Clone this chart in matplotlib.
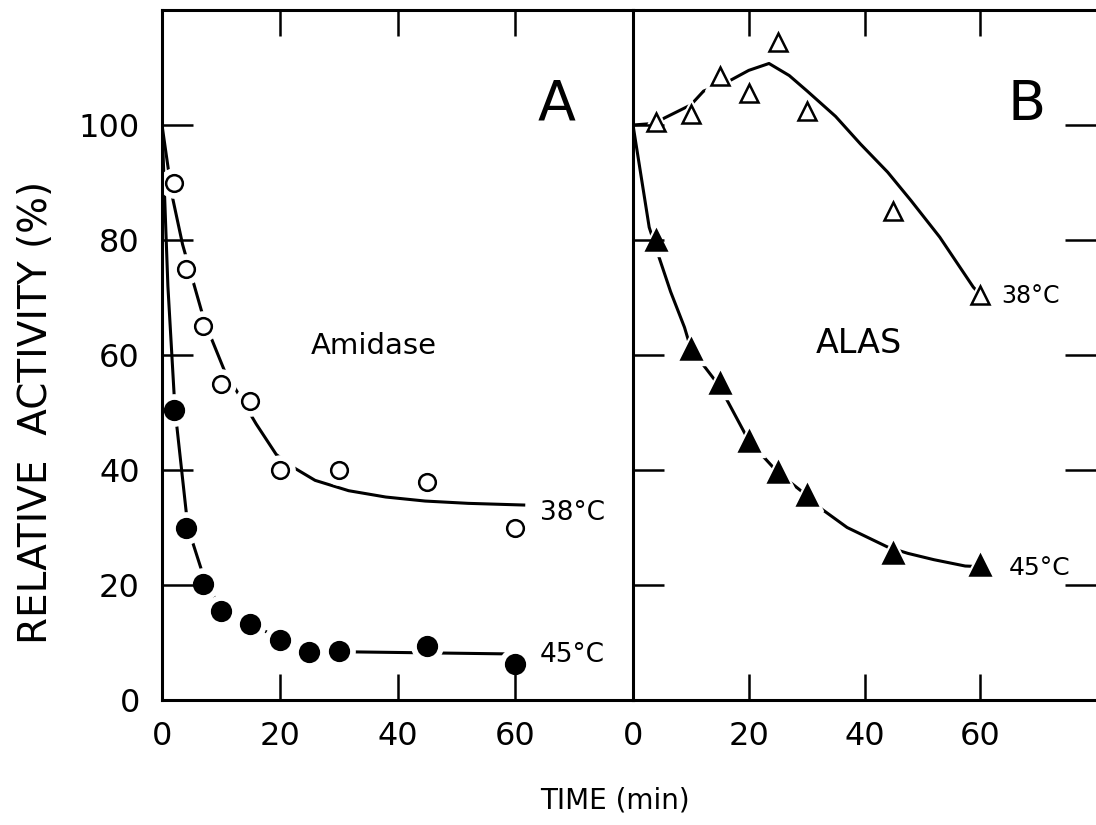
import matplotlib
matplotlib.use("Agg")
import matplotlib.pyplot as plt

# ---- data ----
# Panel A: amidase
a38_t = [2, 4, 7, 10, 15, 20, 30, 45, 60]
a38_y = [90, 75, 65, 55, 52, 40, 40, 38, 30]
a45_t = [2, 4, 7, 10, 15, 20, 25, 30, 45, 60]
a45_y = [50.5, 30, 20.2, 15.5, 13.2, 10.5, 8.3, 8.6, 9.4, 6.3]

# hand-drawn fitted curves (panel A)
a38_curve_t = [0, 1.7, 3.5, 6.7, 8.1, 10.6, 12.3, 16, 19.4, 22.4, 26, 31.7, 38, 44.7, 52, 61.7]
a38_curve_y = [100, 87.8, 79.2, 67.7, 63.6, 57.3, 54.4, 48, 42.7, 40.4, 38.2, 36.4, 35.3, 34.6, 34.2, 33.9]
a45_curve_t = [0, 1, 2.2, 4.4, 7.4, 10.3, 15.4, 20.5, 25.3, 30, 45, 60]
a45_curve_y = [100, 72, 50.6, 30, 20.4, 15.5, 13, 10.5, 8.6, 8.4, 8.2, 8.0]

# Panel B: ALAS
b38_t = [4, 10, 15, 20, 25, 30, 45, 60]
b38_y = [100.5, 102, 108.5, 105.5, 114.5, 102.5, 85, 70.5]
b45_t = [4, 10, 15, 20, 25, 30, 45, 60]
b45_y = [80, 61.1, 55.2, 45.1, 39.6, 35.6, 25.5, 23.4]

b38_curve_t = [0, 4, 5.4, 10, 12.2, 16.7, 20, 23.5, 27, 30.1, 35, 39.3, 44, 48, 53, 58.8, 60]
b38_curve_y = [100, 100.3, 101.2, 103.5, 105.9, 107.7, 109.5, 110.7, 108.6, 105.9, 101.5, 96.7, 91.8, 86.9, 80.5, 71.8, 70.5]
b45_curve_t = [0, 2.8, 4, 6.5, 8.9, 10, 15, 20, 25, 30, 32.2, 37, 44, 47.5, 52, 57.4, 60]
b45_curve_y = [100, 82.2, 78.5, 71, 64.8, 61.1, 54.5, 45.1, 39.6, 35.6, 33.5, 30, 26.6, 25.5, 24.4, 23.3, 23.2]

xticks = [0, 20, 40, 60]
yticks = [0, 20, 40, 60, 80, 100]

plt.rcParams['font.family'] = ['DejaVu Sans']

fig = plt.figure(figsize=(10.96, 8.25), dpi=100)
W, H = 1096, 825
axA = fig.add_axes([162 / W, 1 - 700 / H, (633 - 162) / W, 690 / H])
axB = fig.add_axes([633 / W, 1 - 700 / H, 1 - 633 / W, 690 / H])

LW = 2.2


def series(ax, ct, cy, t, y, marker, filled, ms):
    ax.plot(ct, cy, color='black', lw=LW, zorder=1, solid_capstyle='butt')
    # white halo so the line breaks around each symbol (kept under the spines)
    ax.plot(t, y, ls='none', marker=marker, ms=ms + 9, mfc='white', mec='white', zorder=1.5)
    ax.plot(t, y, ls='none', marker=marker, ms=ms,
            mfc='black' if filled else 'white', mec='black', mew=1.8, zorder=4)


series(axA, a38_curve_t, a38_curve_y, a38_t, a38_y, 'o', False, 12)
series(axA, a45_curve_t, a45_curve_y, a45_t, a45_y, 'o', True, 13.5)
series(axB, b38_curve_t, b38_curve_y, b38_t, b38_y, '^', False, 12.5)
series(axB, b45_curve_t, b45_curve_y, b45_t, b45_y, '^', True, 14)

for ax in (axA, axB):
    ax.set_xlim(0, 80)
    ax.set_ylim(0, 120)
    ax.set_xticks(xticks)
    ax.set_yticks(yticks)
    for s in ax.spines.values():
        s.set_linewidth(2.2)
        s.set_zorder(3)
    ax.tick_params(axis='x', direction='in', length=19, width=1.8, top=True,
                   labelsize=23, pad=15)
    ax.tick_params(axis='y', direction='in', length=22, width=1.8,
                   labelsize=23, pad=16)

axA.set_xticklabels(['0', '20', '40', '60'])
axA.tick_params(axis='y', right=False)
axA.spines['right'].set_visible(False)
axB.tick_params(axis='y', left=True, right=True, labelleft=False)
axB.spines['right'].set_visible(False)

# panel annotations
axA.text(67, 103.6, 'A', fontsize=40, ha='center', va='center')
axA.text(36, 61.6, 'Amidase', fontsize=21, ha='center', va='center')
axA.text(64.2, 32.6, '38°C', fontsize=19, ha='left', va='center')
axA.text(64.2, 7.8, '45°C', fontsize=19, ha='left', va='center')

axB.text(68, 103.5, 'B', fontsize=40, ha='center', va='center')
axB.text(39, 62, 'ALAS', fontsize=24, ha='center', va='center')
axB.text(63.7, 70.3, '38°C', fontsize=17, ha='left', va='center')
axB.text(65, 22.9, '45°C', fontsize=18, ha='left', va='center')

fig.text(615 / W, 1 - 800 / H, 'TIME (min)', fontsize=20, ha='center', va='center')
fig.text(36 / W, 1 - 412 / H, 'RELATIVE  ACTIVITY (%)', fontsize=28,
         rotation=90, ha='center', va='center')

fig.savefig('out.png', dpi=100)
